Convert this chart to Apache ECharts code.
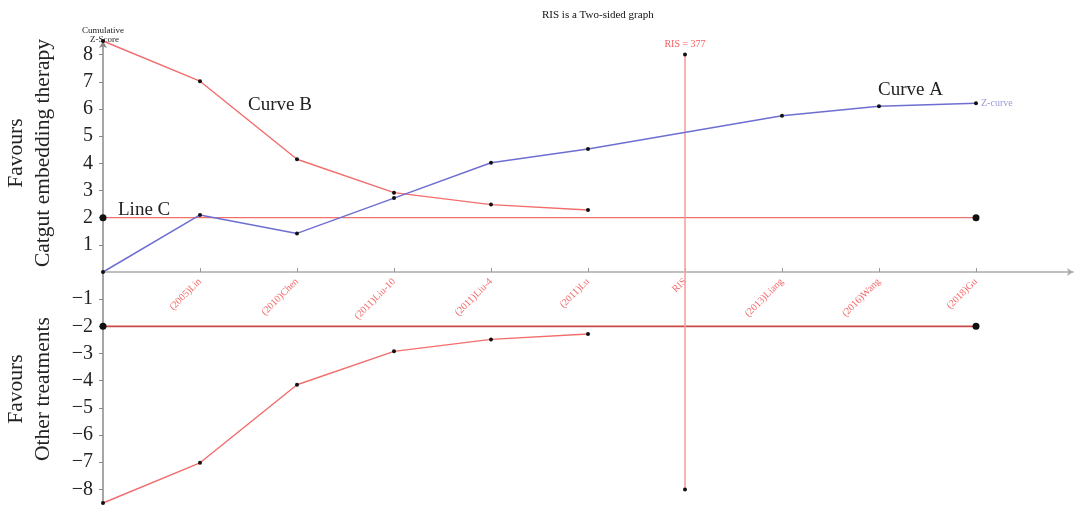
<!DOCTYPE html>
<html>
<head>
<meta charset="utf-8">
<script src="https://cdn.jsdelivr.net/npm/echarts@6/dist/echarts.min.js"></script>
<style>
html,body{margin:0;padding:0;background:#fff;}
#chart{width:1078px;height:505px;}
</style>
</head>
<body>
<div id="chart"></div>
<script>
// ---- data ----
const categories = ['', '(2005)Lin', '(2010)Chen', '(2011)Liu-10', '(2011)Liu-4', '(2011)Lu', 'RIS', '(2013)Liang', '(2016)Wang', '(2018)Gu', ''];
const zCurve = [0, 2.1, 1.42, 2.72, 4.02, 4.53, null, 5.75, 6.10, 6.21, null];
const upperBoundary = [8.5, 7.02, 4.15, 2.92, 2.48, 2.28, null, null, null, null, null];
const lowerBoundary = [-8.5, -7.02, -4.15, -2.92, -2.48, -2.28, null, null, null, null, null];
const conventionalZ = 2;
const conventionalStart = 0;
const conventionalEnd = 9;
const risIndex = 6;
const risValue = 377;
const risRange = [8, -8];
const yTickValues = [-8, -7, -6, -5, -4, -3, -2, -1, 1, 2, 3, 4, 5, 6, 7, 8];
const yRange = [-8.5, 8.5];

const serif = '"Liberation Serif", "DejaVu Serif", serif';
const lastZ = zCurve.reduce((acc, v, i) => (v !== null ? i : acc), 0);

const gridTop = 41, gridBottom = 2, chartH = 505;
const plotH = chartH - gridTop - gridBottom;
// place the x axis at y = 0 (middle of the symmetric range)
const zeroOffset = -plotH * (0 - yRange[0]) / (yRange[1] - yRange[0]);

const chart = echarts.init(document.getElementById('chart'));
chart.setOption({
  animation: false,
  backgroundColor: '#fff',
  title: {
    text: 'RIS is a Two-sided graph',
    left: 537, top: 5,
    textStyle: { fontFamily: serif, fontSize: 11, fontWeight: 'normal', color: '#111' }
  },
  grid: { left: 103, right: 5, top: gridTop, bottom: gridBottom, containLabel: false, outerBoundsMode: 'none' },
  xAxis: {
    type: 'category',
    data: categories,
    boundaryGap: false,
    position: 'bottom',
    offset: zeroOffset,
    axisLine: { onZero: false, lineStyle: { color: '#aaa', width: 1.5 }, symbol: ['none', 'arrow'], symbolSize: [6, 6] },
    axisTick: { inside: true, length: 4, alignWithLabel: true, interval: (i) => i > 0 && i < 10, lineStyle: { color: '#999' } },
    axisLabel: { interval: 0, rotate: 45, color: '#f46a6a', fontSize: 10, fontFamily: serif, margin: 8 },
    splitLine: { show: false }
  },
  yAxis: {
    type: 'value',
    min: yRange[0], max: yRange[1],
    axisLine: { show: true, onZero: false, lineStyle: { color: '#888', width: 1.5 }, symbol: ['none', 'arrow'], symbolSize: [6, 7] },
    axisTick: { show: true, length: 4, customValues: yTickValues, lineStyle: { color: '#888' } },
    axisLabel: {
      customValues: yTickValues,
      color: '#222', fontSize: 20, fontFamily: serif, margin: 10,
      formatter: (v) => (v < 0 ? '\u2212' + Math.abs(v) : String(v))
    },
    splitLine: { show: false }
  },
  graphic: [
    { type: 'text', left: 82, top: 26, style: { text: 'Cumulative', font: '9px ' + serif, fill: '#222' } },
    { type: 'text', left: 90, top: 35, style: { text: 'Z-Score', font: '9px ' + serif, fill: '#222' } },
    { type: 'text', x: 30, y: 153, rotation: Math.PI / 2,
      style: { text: 'Favours\nCatgut embedding therapy', font: '21.5px ' + serif, fill: '#222', align: 'center', verticalAlign: 'middle', lineHeight: 27 } },
    { type: 'text', x: 30, y: 389, rotation: Math.PI / 2,
      style: { text: 'Favours\nOther treatments', font: '21.5px ' + serif, fill: '#222', align: 'center', verticalAlign: 'middle', lineHeight: 27 } },
    { type: 'text', left: 248, top: 96, style: { text: 'Curve B', font: '19px ' + serif, fill: '#222' } },
    { type: 'text', left: 878, top: 81, style: { text: 'Curve A', font: '19px ' + serif, fill: '#222' } },
    { type: 'text', left: 118, top: 201, style: { text: 'Line C', font: '19px ' + serif, fill: '#222' } }
  ],
  series: [
    {
      name: 'conventional upper', type: 'line',
      data: [[conventionalStart, conventionalZ], [conventionalEnd, conventionalZ]],
      symbol: 'circle', symbolSize: 7, itemStyle: { color: '#111' },
      lineStyle: { color: '#f07070', width: 1.3 }, z: 2
    },
    {
      name: 'conventional lower', type: 'line',
      data: [[conventionalStart, -conventionalZ], [conventionalEnd, -conventionalZ]],
      symbol: 'circle', symbolSize: 7, itemStyle: { color: '#111' },
      lineStyle: { color: '#c94848', width: 1.6 }, z: 2
    },
    {
      name: 'RIS', type: 'line',
      data: [[risIndex, risRange[0]], [risIndex, risRange[1]]],
      symbol: 'circle', symbolSize: 4, itemStyle: { color: '#111' },
      lineStyle: { color: '#f7a0a0', width: 1.6 },
      label: {
        show: true, position: 'top', distance: 3, color: '#f25f5f', fontSize: 10, fontFamily: serif,
        formatter: (p) => (p.dataIndex === 0 ? 'RIS = ' + risValue : '')
      }, z: 2
    },
    {
      name: 'upper boundary', type: 'line', data: upperBoundary,
      symbol: 'circle', symbolSize: 4, itemStyle: { color: '#111' },
      lineStyle: { color: '#f26d6d', width: 1.4 }, z: 3
    },
    {
      name: 'lower boundary', type: 'line', data: lowerBoundary,
      symbol: 'circle', symbolSize: 4, itemStyle: { color: '#111' },
      lineStyle: { color: '#f26d6d', width: 1.4 }, z: 3
    },
    {
      name: 'Z-curve', type: 'line', data: zCurve, connectNulls: true,
      symbol: 'circle', symbolSize: 4, itemStyle: { color: '#111' },
      lineStyle: { color: '#6e6ed2', width: 1.5 },
      label: {
        show: true, position: 'right', distance: 3, color: '#9a9ad8', fontSize: 10, fontFamily: serif,
        formatter: (p) => (p.dataIndex === lastZ ? 'Z-curve' : '')
      }, z: 4
    }
  ]
});
</script>
</body>
</html>
